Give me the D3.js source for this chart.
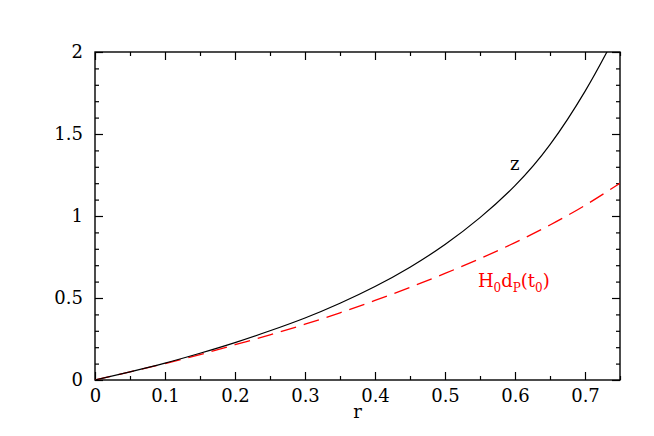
<!DOCTYPE html>
<html>
<head>
<meta charset="utf-8">
<script src="https://cdn.jsdelivr.net/npm/d3@7/dist/d3.min.js"></script>
<style>
  body { margin: 0; background: #fff; }
  svg text { font-family: "DejaVu Serif", "Liberation Serif", serif; }
</style>
</head>
<body>
<div id="app"></div>
<script>
// values
const rZ = [0, 0.05, 0.1, 0.15, 0.2, 0.25, 0.3, 0.35, 0.4, 0.45, 0.5, 0.55, 0.6, 0.65, 0.7, 0.735];
const zVals = [0, 0.05, 0.103, 0.163, 0.228, 0.3, 0.378, 0.468, 0.57, 0.688, 0.826, 0.99, 1.185, 1.435, 1.76, 2.03];

const rD = [0, 0.05, 0.1, 0.15, 0.2, 0.25, 0.3, 0.35, 0.4, 0.45, 0.5, 0.55, 0.6, 0.65, 0.7, 0.75];
const dVals = [0, 0.05, 0.1, 0.155, 0.215, 0.275, 0.34, 0.41, 0.485, 0.565, 0.65, 0.74, 0.838, 0.945, 1.065, 1.2];

const xMajor = [0, 0.1, 0.2, 0.3, 0.4, 0.5, 0.6, 0.7];
const xMinor = [0.05, 0.15, 0.25, 0.35, 0.45, 0.55, 0.65, 0.75];
const yMajor = [0, 0.5, 1, 1.5, 2];
const yMinor = [0.1, 0.2, 0.3, 0.4, 0.6, 0.7, 0.8, 0.9, 1.1, 1.2, 1.3, 1.4, 1.6, 1.7, 1.8, 1.9];

const width = 654;
const height = 436;
const margin = { top: 52, right: 34, bottom: 56, left: 95 };
const w = width - margin.left - margin.right;
const h = height - margin.top - margin.bottom;
const fontSize = 18;

const svg = d3.select('#app').append('svg')
  .attr('width', width)
  .attr('height', height);

const g = svg.append('g').attr('transform', `translate(${margin.left},${margin.top})`);

const x = d3.scaleLinear().domain([0, 0.75]).range([0, w]);
const y = d3.scaleLinear().domain([0, 2]).range([h, 0]);

g.append('clipPath').attr('id', 'clip')
  .append('rect').attr('width', w).attr('height', h);

// ticks, all pointing inward
const fmt = d => String(d);
const styleAxis = sel => {
  sel.select('.domain').remove();
  sel.selectAll('line').attr('stroke', '#000').attr('stroke-width', 1.2);
  sel.selectAll('text').attr('font-size', fontSize).attr('fill', '#000')
    .attr('font-family', '"DejaVu Serif", "Liberation Serif", serif');
};

g.append('g').attr('transform', `translate(0,${h})`)
  .call(d3.axisBottom(x).tickValues(xMajor).tickFormat(fmt).tickSize(-8).tickPadding(9))
  .call(styleAxis);
g.append('g').attr('transform', `translate(0,${h})`)
  .call(d3.axisBottom(x).tickValues(xMinor).tickFormat('').tickSize(-4))
  .call(styleAxis);
g.append('g')
  .call(d3.axisTop(x).tickValues(xMajor).tickFormat('').tickSize(-8))
  .call(styleAxis);
g.append('g')
  .call(d3.axisTop(x).tickValues(xMinor).tickFormat('').tickSize(-4))
  .call(styleAxis);

g.append('g')
  .call(d3.axisLeft(y).tickValues(yMajor).tickFormat(fmt).tickSize(-8).tickPadding(12))
  .call(styleAxis);
g.append('g')
  .call(d3.axisLeft(y).tickValues(yMinor).tickFormat('').tickSize(-4))
  .call(styleAxis);
g.append('g').attr('transform', `translate(${w},0)`)
  .call(d3.axisRight(y).tickValues(yMajor).tickFormat('').tickSize(-8))
  .call(styleAxis);
g.append('g').attr('transform', `translate(${w},0)`)
  .call(d3.axisRight(y).tickValues(yMinor).tickFormat('').tickSize(-4))
  .call(styleAxis);

g.append('rect')
  .attr('width', w).attr('height', h)
  .attr('fill', 'none').attr('stroke', '#000').attr('stroke-width', 1.4);

// curves
const line = d3.line()
  .x(d => x(d[0]))
  .y(d => y(d[1]))
  .curve(d3.curveNatural);

const plot = g.append('g').attr('clip-path', 'url(#clip)');

plot.append('path')
  .datum(d3.zip(rD, dVals))
  .attr('d', line)
  .attr('fill', 'none')
  .attr('stroke', '#f00')
  .attr('stroke-width', 1.3)
  .attr('stroke-dasharray', '16,8');

plot.append('path')
  .datum(d3.zip(rZ, zVals))
  .attr('d', line)
  .attr('fill', 'none')
  .attr('stroke', '#000')
  .attr('stroke-width', 1.2);

// labels
g.append('text')
  .attr('x', w / 2)
  .attr('y', h + 38)
  .attr('text-anchor', 'middle')
  .attr('font-size', fontSize)
  .text('r');

g.append('text')
  .attr('x', x(0.593))
  .attr('y', y(1.28))
  .attr('font-size', fontSize)
  .text('z');

const lab = g.append('text')
  .attr('x', x(0.547))
  .attr('y', y(0.57))
  .attr('font-size', fontSize)
  .attr('fill', '#f00');
lab.append('tspan').text('H');
lab.append('tspan').attr('font-size', 12).attr('dy', 5).text('0');
lab.append('tspan').attr('dy', -5).text('d');
lab.append('tspan').attr('font-size', 12).attr('dy', 5).text('P');
lab.append('tspan').attr('dy', -5).text('(t');
lab.append('tspan').attr('font-size', 12).attr('dy', 5).text('0');
lab.append('tspan').attr('dy', -5).text(')');
</script>
</body>
</html>
